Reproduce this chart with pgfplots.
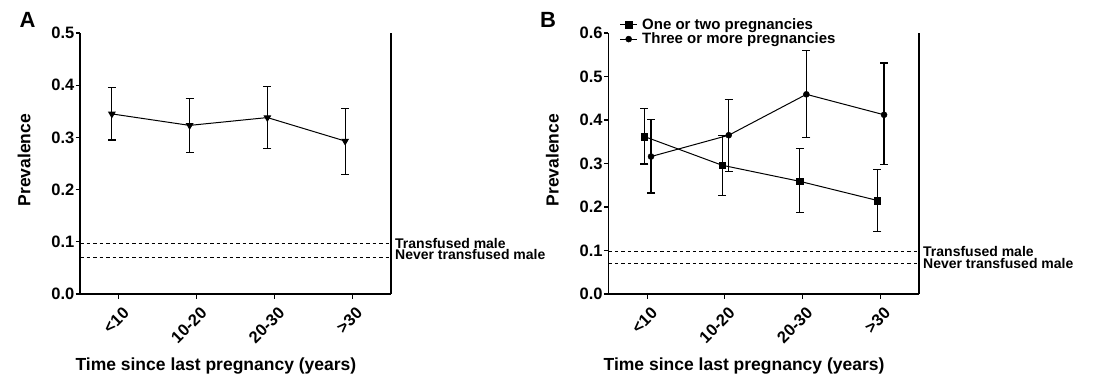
\documentclass[border=0pt]{standalone}
\usepackage{fontspec}
\setmainfont{Liberation Sans}
\usepackage{pgfplots}
\pgfplotsset{compat=1.18}
\usepackage{pgfplotstable}

\pgfplotstableread{
x y ep em
-0.09 0.345 0.050 0.050
0.91 0.323 0.052 0.052
1.91 0.338 0.059 0.059
2.91 0.293 0.062 0.064
}\dataA
\pgfplotstableread{
x y ep em
-0.035 0.362 0.065 0.063
0.965 0.296 0.068 0.069
1.965 0.259 0.075 0.071
2.965 0.215 0.071 0.071
}\dataBone
\pgfplotstableread{
x y ep em
0.05 0.316 0.086 0.084
1.05 0.365 0.082 0.083
2.05 0.459 0.100 0.099
3.05 0.412 0.119 0.114
}\dataBtwo

\newcommand\tickfont{\bfseries\fontsize{16.5bp}{18bp}\selectfont}
\newcommand\labfont{\bfseries\fontsize{17.5bp}{20bp}\selectfont}
\newcommand\smallfont{\bfseries\fontsize{14bp}{16bp}\selectfont}

\pgfplotsset{
  panel/.style={
    scale only axis, height=261bp,
    xmin=-0.5, xmax=3.5, ymin=0,
    clip=false,
    axis x line*=bottom, axis y line*=left,
    x axis line style={-}, y axis line style={-},
    axis line style={line width=1.2bp, black},
    tick align=outside, major tick length=4.5bp,
    tick style={line width=1.2bp, black},
    minor tick num=0,
    xtick={0,1,2,3},
    xticklabels={{<10},{10-20},{20-30},{>30}},
    x tick label style={xshift=3bp, yshift=-6bp, rotate=45, anchor=north east, font=\tickfont, inner sep=1bp},
    y tick label style={font=\tickfont, inner sep=1bp},
    yticklabel style={/pgf/number format/.cd, fixed, fixed zerofill, precision=1, assume math mode=true},
    xlabel={Time since last pregnancy (years)},
    ylabel={Prevalence},
    xlabel style={font=\labfont, at={(axis description cs:0.437,-0.276)}, anchor=center},
    ylabel style={font=\labfont, at={(axis description cs:-0.18,0.513)}, anchor=center, rotate=0},
    error bars/error bar style={line width=1.2bp, black},
    error bars/error mark options={rotate=90, mark size=4bp, line width=1.2bp, black},
  },
  ser/.style={black, line width=1bp, mark options={solid, fill=black, line width=0.5bp}},
  dline/.style={black, line width=1bp, dash pattern=on 3.5bp off 3bp},
}

\begin{document}
\begin{tikzpicture}
\path[use as bounding box] (0,0) rectangle (1102bp,378bp);
\node[font=\bfseries\fontsize{22bp}{24bp}\selectfont] at (27.5bp,358bp) {A};
\node[font=\bfseries\fontsize{22bp}{24bp}\selectfont] at (548bp,358bp) {B};

\begin{axis}[panel, width=311bp, at={(80bp,84bp)}, anchor=south west,
  ymax=0.5, ytick={0,0.1,0.2,0.3,0.4,0.5}]
\addplot[dline] coordinates {(-0.5,0.097) (3.5,0.097)};
\addplot[dline] coordinates {(-0.5,0.070) (3.5,0.070)};
\addplot[ser, mark=triangle*, mark size=3.6bp, mark options={rotate=180},
  error bars/.cd, y dir=both, y explicit]
  table[x=x, y=y, y error plus=ep, y error minus=em] {\dataA};
\draw[line width=1.2bp] (rel axis cs:1,0) -- (rel axis cs:1,1);
\node[anchor=west, inner sep=0, font=\smallfont] at (axis cs:3.5,0.097) [xshift=4bp] {Transfused male};
\node[anchor=west, inner sep=0, font=\smallfont] at (axis cs:3.5,0.070) [xshift=4bp, yshift=3bp] {Never transfused male};
\end{axis}

\begin{axis}[panel, width=310.7bp, at={(608.3bp,84bp)}, anchor=south west,
  ymax=0.6, ytick={0,0.1,0.2,0.3,0.4,0.5,0.6},
  legend style={at={(axis description cs:0.036,1.058)}, anchor=north west, draw=none, fill=none,
    font=\bfseries\fontsize{15bp}{17bp}\selectfont, inner sep=0pt, row sep=1bp, column sep=4bp,
    nodes={inner sep=0.5bp}},
  legend cell align=left,
  legend image code/.code={\draw[mark repeat=2, mark phase=2] plot coordinates {(0bp,0bp) (8.5bp,0bp) (17bp,0bp)};}]
\addplot[ser, mark=square*, mark size=3.3bp,
  error bars/.cd, y dir=both, y explicit]
  table[x=x, y=y, y error plus=ep, y error minus=em] {\dataBone};
\addlegendentry{One or two pregnancies}
\addplot[ser, mark=*, mark size=3bp,
  error bars/.cd, y dir=both, y explicit]
  table[x=x, y=y, y error plus=ep, y error minus=em] {\dataBtwo};
\addlegendentry{Three or more pregnancies}
\addplot[dline, forget plot] coordinates {(-0.5,0.097) (3.5,0.097)};
\addplot[dline, forget plot] coordinates {(-0.5,0.070) (3.5,0.070)};
\draw[line width=1.2bp] (rel axis cs:1,0) -- (rel axis cs:1,1);
\node[anchor=west, inner sep=0, font=\smallfont] at (axis cs:3.5,0.097) [xshift=4bp] {Transfused male};
\node[anchor=west, inner sep=0, font=\smallfont] at (axis cs:3.5,0.070) [xshift=4bp] {Never transfused male};
\end{axis}
\end{tikzpicture}
\end{document}
